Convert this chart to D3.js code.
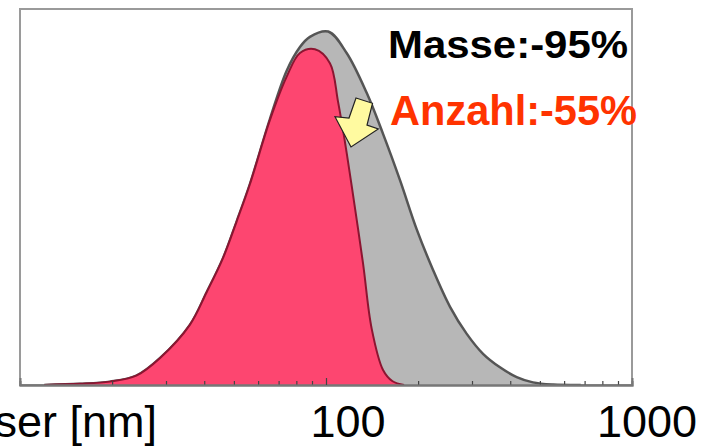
<!DOCTYPE html>
<html>
<head>
<meta charset="utf-8">
<script src="https://cdn.jsdelivr.net/npm/d3@7"></script>
<style>
  html, body { margin: 0; padding: 0; background: #fff; }
  svg { display: block; }
</style>
</head>
<body>
<svg id="chart" width="703" height="447"></svg>
<script>
// ---- Data ----
// Particle diameter in nm (log axis) and relative frequency (0-100)
const massDiameters = [12, 15.7, 19.7, 24, 28.7, 35.9, 40.7, 46.1, 51.1, 56.4, 65.6, 74.4, 82.2, 88.6, 101.7, 116.8, 135.8, 153.6, 174.5, 197.9, 223.8, 254.3, 288.4, 326, 370.3, 419.9, 474.6, 552, 680];
const massValues    = [0, 0.3, 0.9, 2.5, 7.2, 16.0, 24.6, 33.8, 43.6, 53.4, 70.8, 83.6, 89.9, 92.6, 94.0, 88.3, 77.7, 66.8, 54.5, 41.4, 30.6, 20.8, 13.6, 8.3, 4.7, 2.1, 0.7, 0.13, 0];

const countDiameters = [12, 15.7, 19.7, 24, 28.7, 35.9, 40.7, 46.1, 51.1, 56.4, 65.6, 74.4, 82.2, 92, 103, 109.4, 115.4, 121.3, 132.1, 141, 153.6, 165, 180];
const countValues    = [0, 0.3, 0.9, 2.5, 7.2, 16.0, 24.6, 33.8, 43.6, 53.4, 70.5, 82.0, 88.3, 89.3, 85.6, 75.5, 64.5, 53.0, 32.4, 15.0, 4.0, 1.0, 0];

const majorTicks = [100];
const minorTicks = [20, 30, 40, 50, 60, 70, 80, 90, 200, 300, 400, 500, 600, 700, 800, 900];
const tickLabels = [100, 1000];
const axisTitle = "Durchmesser [nm]";
const massLabel = "Masse:-95%";
const countLabel = "Anzahl:-55%";
// Arrow annotation anchor (diameter, value) — points at the count curve
const arrowTip = [120.7, 63.3];

// ---- Layout ----
(function () {
const svg = d3.select("#chart");
const mLeft = 20, mRight = 632, mTop = 9, mBottom = 385;
const labelShift = new Map([[100, 22], [1000, 15]]); // horizontal offset of tick labels (px)

const x = d3.scaleLog().domain([10, 1000]).range([mLeft, mRight]);
const y = d3.scaleLinear().domain([0, 100]).range([mBottom, mTop]);

const mass = massDiameters.map((d, i) => ({ d, v: massValues[i] }));
const count = countDiameters.map((d, i) => ({ d, v: countValues[i] }));

const curve = d3.curveCatmullRom.alpha(0.5);
const area = d3.area()
  .x(p => x(p.d)).y0(y(0)).y1(p => y(p.v))
  .curve(curve);
const line = d3.line()
  .x(p => x(p.d)).y(p => y(p.v))
  .curve(curve);

// Frame
svg.append("rect")
  .attr("x", mLeft).attr("y", mTop)
  .attr("width", mRight - mLeft).attr("height", mBottom - mTop)
  .attr("fill", "#fff").attr("stroke", "#9a9a9a").attr("stroke-width", 2);

svg.append("clipPath").attr("id", "plotclip")
  .append("rect").attr("x", mLeft).attr("y", mTop)
  .attr("width", mRight - mLeft).attr("height", mBottom - mTop);
const plot = svg.append("g").attr("clip-path", "url(#plotclip)");

// Mass distribution (grey)
plot.append("path").datum(mass).attr("d", area).attr("fill", "#b7b7b7");
plot.append("path").datum(mass).attr("d", line)
  .attr("fill", "none").attr("stroke", "#555").attr("stroke-width", 2.5);

// Count distribution (pink)
plot.append("path").datum(count).attr("d", area).attr("fill", "#fd4670");
plot.append("path").datum(count).attr("d", line)
  .attr("fill", "none").attr("stroke", "#8c1531").attr("stroke-width", 2);

// Bottom axis with inward ticks
const gMinor = svg.append("g").attr("transform", `translate(0,${mBottom})`)
  .call(d3.axisBottom(x).tickValues(minorTicks).tickSize(-4).tickFormat(""));
const gMajor = svg.append("g").attr("transform", `translate(0,${mBottom})`)
  .call(d3.axisBottom(x).tickValues(majorTicks).tickSize(-7).tickFormat(""));
[gMinor, gMajor].forEach(g => {
  g.select(".domain").attr("stroke", "#777").attr("stroke-width", 2);
  g.selectAll(".tick line").attr("stroke", "#444").attr("stroke-width", 1.2);
});

// Tick labels
svg.append("g").selectAll("text").data(tickLabels).join("text")
  .attr("x", d => x(d) + labelShift.get(d)).attr("y", 437)
  .attr("text-anchor", "middle")
  .attr("font-family", "Liberation Sans, Arial, sans-serif")
  .attr("font-size", 45).attr("fill", "#000")
  .text(d => d);

// Axis title (cut off at left edge as in the reference)
svg.append("text")
  .attr("x", 157).attr("y", 437).attr("text-anchor", "end")
  .attr("font-family", "Liberation Sans, Arial, sans-serif")
  .attr("font-size", 45).attr("fill", "#000")
  .text(axisTitle);

// Annotations
svg.append("text")
  .attr("x", 388).attr("y", 58)
  .attr("font-family", "Liberation Sans, Arial, sans-serif")
  .attr("font-weight", "bold").attr("font-size", 39)
  .attr("textLength", 240).attr("lengthAdjust", "spacingAndGlyphs")
  .attr("fill", "#000").text(massLabel);
svg.append("text")
  .attr("x", 390).attr("y", 125)
  .attr("font-family", "Liberation Sans, Arial, sans-serif")
  .attr("font-weight", "bold").attr("font-size", 42)
  .attr("textLength", 247).attr("lengthAdjust", "spacingAndGlyphs")
  .attr("fill", "#ff3300").text(countLabel);

// Yellow arrow pointing down-left at the count curve
const tx = x(arrowTip[0]), ty = y(arrowTip[1]);
const arrowShape = [[5, -49], [21.5, -43.7], [16, -22], [27.3, -18], [0, 0], [-16, -30.3], [-2, -29]];
svg.append("polygon")
  .attr("points", arrowShape.map(([dx, dy]) => `${tx + dx},${ty + dy}`).join(" "))
  .attr("fill", "#fffaa0").attr("stroke", "#222").attr("stroke-width", 1.2)
  .attr("stroke-linejoin", "miter");
})();
</script>
</body>
</html>
